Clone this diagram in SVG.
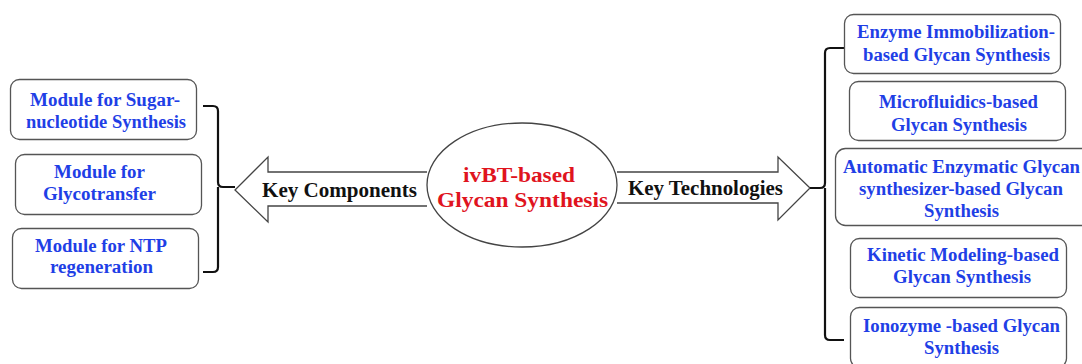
<svg xmlns="http://www.w3.org/2000/svg" width="1082" height="364" viewBox="0 0 1082 364">
<style>
text{font-family:'Liberation Serif','Times New Roman',serif;font-weight:bold}
.box{fill:#fff;stroke:#555;stroke-width:1.3}
.t{font-size:18px;fill:#1f3fe6}
.k{font-size:20px;fill:#111}
.c{font-size:22px;fill:#e0141e}
.br{fill:none;stroke:#111;stroke-width:2.2}
.ar{fill:#fff;stroke:#444;stroke-width:1.3}
</style>
<rect width="1082" height="364" fill="#fff"/>
<g id="connectors">
<path class="ar" d="M427,172 L268,172 L268,157 L235,190 L268,222 L268,206 L427,206"/>
<path class="ar" d="M617,172 L778,172 L778,157 L810,188 L778,220 L778,203 L617,203"/>
<path class="br" d="M203,106 L213,106 Q218,106 218,111 L218,182 Q218,187 223,187 L235,187 M218,187 L218,267 Q218,272 213,272 L203,272"/>
<path class="br" d="M844,48 L830,48 Q825,48 825,53 L825,183 Q825,188 820,188 L810,188 M825,188 L825,335 Q825,340 830,340 L844,340"/>
</g>
<g id="center">
<ellipse cx="522" cy="185" rx="95" ry="62" fill="#fff" stroke="#444" stroke-width="1.3"/>
<text class="c" x="463" y="182" textLength="112" lengthAdjust="spacingAndGlyphs">ivBT-based</text>
<text class="c" x="437" y="207" textLength="171" lengthAdjust="spacingAndGlyphs">Glycan Synthesis</text>
</g>
<g id="key-components"><text class="k" x="262" y="197" textLength="155" lengthAdjust="spacingAndGlyphs">Key Components</text></g>
<g id="key-technologies"><text class="k" x="628" y="195" textLength="155" lengthAdjust="spacingAndGlyphs">Key Technologies</text></g>
<g id="l1"><rect class="box" x="10.5" y="79.5" width="186" height="60" rx="9"/>
<text class="t" x="30" y="106" textLength="150" lengthAdjust="spacingAndGlyphs">Module for Sugar-</text>
<text class="t" x="26" y="128" textLength="160" lengthAdjust="spacingAndGlyphs">nucleotide Synthesis</text></g>
<g id="l2"><rect class="box" x="15.5" y="154.5" width="186" height="60" rx="9"/>
<text class="t" x="54" y="178" textLength="91" lengthAdjust="spacingAndGlyphs">Module for</text>
<text class="t" x="43" y="200" textLength="113" lengthAdjust="spacingAndGlyphs">Glycotransfer</text></g>
<g id="l3"><rect class="box" x="12.5" y="228.5" width="186" height="60" rx="9"/>
<text class="t" x="35" y="252" textLength="132" lengthAdjust="spacingAndGlyphs">Module for NTP</text>
<text class="t" x="50" y="273" textLength="103" lengthAdjust="spacingAndGlyphs">regeneration</text></g>
<g id="r1"><rect class="box" x="844.5" y="14.5" width="216" height="59" rx="9"/>
<text class="t" x="857" y="38" textLength="198" lengthAdjust="spacingAndGlyphs">Enzyme Immobilization-</text>
<text class="t" x="863" y="61" textLength="187" lengthAdjust="spacingAndGlyphs">based Glycan Synthesis</text></g>
<g id="r2"><rect class="box" x="849.5" y="81.5" width="216" height="59" rx="9"/>
<text class="t" x="879" y="108" textLength="159" lengthAdjust="spacingAndGlyphs">Microfluidics-based</text>
<text class="t" x="891" y="131" textLength="136" lengthAdjust="spacingAndGlyphs">Glycan Synthesis</text></g>
<g id="r3"><rect class="box" x="835.5" y="148.5" width="256" height="77" rx="10"/>
<text class="t" x="843" y="173" textLength="237" lengthAdjust="spacingAndGlyphs">Automatic Enzymatic Glycan</text>
<text class="t" x="859" y="195" textLength="204" lengthAdjust="spacingAndGlyphs">synthesizer-based Glycan</text>
<text class="t" x="924" y="217" textLength="75" lengthAdjust="spacingAndGlyphs">Synthesis</text></g>
<g id="r4"><rect class="box" x="850.5" y="238.5" width="216" height="59" rx="9"/>
<text class="t" x="867" y="261" textLength="192" lengthAdjust="spacingAndGlyphs">Kinetic Modeling-based</text>
<text class="t" x="893" y="283" textLength="138" lengthAdjust="spacingAndGlyphs">Glycan Synthesis</text></g>
<g id="r5"><rect class="box" x="850.5" y="307.5" width="216" height="60" rx="9"/>
<text class="t" x="863" y="332" textLength="197" lengthAdjust="spacingAndGlyphs">Ionozyme -based Glycan</text>
<text class="t" x="924" y="354" textLength="75" lengthAdjust="spacingAndGlyphs">Synthesis</text></g>
</svg>
